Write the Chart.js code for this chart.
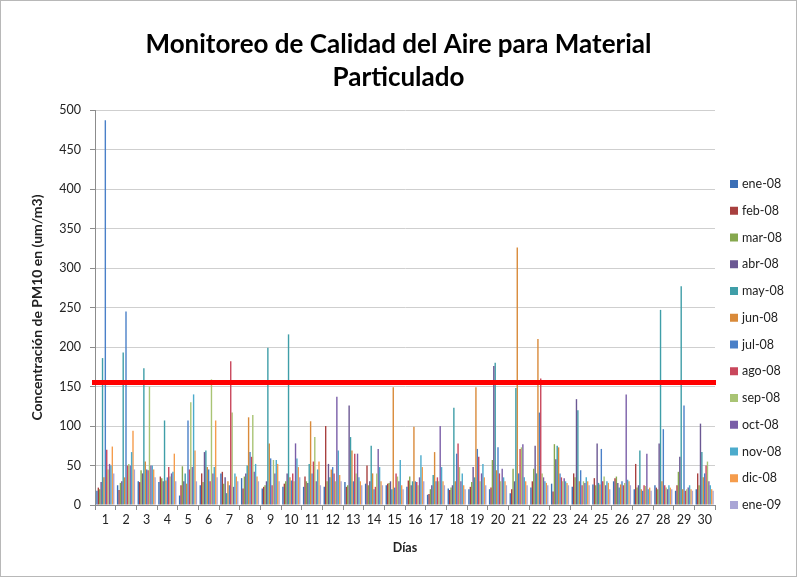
<!DOCTYPE html>
<html>
<head>
<meta charset="utf-8">
<script src="https://cdn.jsdelivr.net/npm/chart.js@4/dist/chart.umd.min.js"></script>
<style>
  body { margin: 0; background: #fff; }
  #wrap { width: 797px; height: 577px; box-sizing: border-box; border: 1px solid #b8b8b8; background: #fff; }
</style>
</head>
<body>
<div id="wrap"><canvas id="myChart" width="795" height="575"></canvas></div>
<script>
// Categories (days) and series labels
const dias = ['1', '2', '3', '4', '5', '6', '7', '8', '9', '10', '11', '12', '13', '14', '15',
  '16', '17', '18', '19', '20', '21', '22', '23', '24', '25', '26', '27', '28', '29', '30'];
const meses = ['ene-08', 'feb-08', 'mar-08', 'abr-08', 'may-08', 'jun-08', 'jul-08',
  'ago-08', 'sep-08', 'oct-08', 'nov-08', 'dic-08', 'ene-09'];

// PM10 values per month, day 1..30
const ene08 = [18, 25, 30, 29, 12, 25, 40, 34, 21, 23, 23, 23, 29, 27, 25, 23, 13, 21, 20, 20, 15, 22, 27, 23, 26, 30, 20, 25, 18, 20];
const feb08 = [22, 19, 29, 36, 25, 40, 42, 21, 23, 27, 36, 100, 23, 50, 27, 31, 14, 19, 23, 22, 20, 30, 17, 40, 34, 34, 52, 22, 25, 40];
const mar08 = [20, 28, 44, 34, 49, 29, 27, 36, 25, 30, 30, 30, 25, 25, 28, 36, 20, 22, 29, 57, 46, 46, 77, 35, 25, 36, 22, 20, 42, 25];
const abr08 = [29, 30, 40, 30, 30, 67, 35, 40, 30, 40, 28, 52, 126, 30, 30, 25, 25, 25, 48, 176, 30, 75, 58, 134, 78, 28, 25, 78, 61, 103];
const may08 = [186, 193, 173, 107, 40, 69, 15, 50, 199, 216, 52, 35, 86, 75, 20, 30, 38, 123, 35, 180, 148, 40, 75, 120, 28, 22, 69, 247, 277, 67];
const jun08 = [35, 35, 55, 31, 27, 48, 30, 111, 78, 35, 106, 45, 69, 40, 149, 99, 67, 30, 149, 44, 326, 210, 73, 30, 26, 26, 20, 30, 20, 35];
const jul08 = [487, 245, 45, 35, 107, 45, 25, 67, 59, 31, 40, 48, 30, 20, 22, 30, 30, 65, 71, 73, 40, 117, 40, 44, 71, 30, 18, 96, 126, 40];
const ago08 = [70, 50, 44, 48, 45, 30, 182, 61, 25, 40, 55, 40, 65, 23, 40, 29, 35, 78, 61, 40, 71, 160, 35, 25, 30, 25, 25, 25, 18, 50];
const sep08 = [45, 52, 150, 36, 130, 159, 117, 114, 57, 30, 86, 30, 40, 40, 36, 25, 30, 48, 30, 30, 73, 40, 30, 30, 36, 28, 24, 22, 20, 55];
const oct08 = [52, 50, 50, 40, 48, 40, 23, 42, 40, 78, 30, 137, 65, 71, 30, 35, 100, 30, 40, 46, 77, 35, 34, 28, 25, 140, 65, 20, 22, 30];
const nov08 = [50, 67, 50, 42, 140, 48, 40, 52, 57, 59, 45, 69, 35, 48, 57, 63, 48, 40, 52, 35, 35, 30, 30, 35, 30, 32, 20, 25, 25, 25];
const dic08 = [74, 94, 45, 65, 69, 107, 36, 36, 52, 48, 55, 38, 30, 30, 25, 48, 30, 25, 35, 30, 30, 28, 28, 30, 28, 30, 22, 22, 20, 20];
const ene09 = [40, 45, 35, 30, 30, 35, 30, 30, 30, 35, 25, 30, 25, 25, 20, 30, 25, 20, 25, 25, 25, 25, 25, 25, 20, 25, 18, 20, 18, 18];

// Limit line (PM10 standard)
const limite = 155;

// Y axis ticks
const yMin = 0;
const yMax = 500;
const yPaso = 50;

const series = [ene08, feb08, mar08, abr08, may08, jun08, jul08, ago08, sep08, oct08, nov08, dic08, ene09];
const colores = ['#3b6fb6', '#a8403f', '#86a84e', '#6b5893', '#3f9ea8', '#d98a3a', '#4a80c8',
  '#c9475c', '#a9c474', '#7a5ea8', '#4cabcc', '#f59c4c', '#aaa6d6'];

const fuente = 'Lato, "Open Sans", sans-serif';

// Red horizontal limit line, drawn on top of the bars
const lineaLimite = {
  id: 'lineaLimite',
  afterDatasetsDraw(chart) {
    const ctx = chart.ctx;
    const area = chart.chartArea;
    const y = chart.scales.y.getPixelForValue(limite);
    ctx.save();
    ctx.strokeStyle = '#ff0000';
    ctx.lineWidth = 5;
    ctx.beginPath();
    ctx.moveTo(area.left - 3, y);
    ctx.lineTo(area.right + 1, y);
    ctx.stroke();
    ctx.restore();
  }
};

// Legend drawn by hand so it sits like the Excel one
const leyenda = {
  id: 'leyenda',
  afterDraw(chart) {
    const ctx = chart.ctx;
    ctx.save();
    ctx.font = '12.5px ' + fuente;
    ctx.textBaseline = 'middle';
    chart.data.datasets.forEach(function(ds, i) {
      const y = 183 + i * 26.75;
      ctx.fillStyle = ds.backgroundColor;
      ctx.fillRect(729, y - 4, 8, 8);
      ctx.fillStyle = '#222';
      ctx.fillText(ds.label, 741, y);
    });
    ctx.restore();
  }
};

const datasets = series.map(function(valores, i) {
  return {
    label: meses[i],
    data: valores,
    backgroundColor: colores[i],
    borderWidth: 0,
    categoryPercentage: 0.88,
    barPercentage: 1.0
  };
});

const ctx = document.getElementById('myChart').getContext('2d');

var myChart = new Chart(ctx, {
  type: 'bar',
  data: {
    labels: dias,
    datasets: datasets
  },
  options: {
    responsive: false,
    animation: false,
    layout: {
      padding: { left: 0, right: 0, top: 0, bottom: 5 }
    },
    plugins: {
      legend: { display: false },
      tooltip: { enabled: false },
      title: {
        display: true,
        text: ['Monitoreo de Calidad del Aire para Material', 'Particulado'],
        color: '#000',
        font: { family: fuente, size: 26, weight: 'bold', lineHeight: 1.27 },
        padding: { top: 27, bottom: 16 }
      }
    },
    scales: {
      x: {
        afterFit: function(scale) { scale.height = 66; },
        grid: {
          display: true,
          drawOnChartArea: false,
          drawTicks: true,
          tickLength: 5,
          color: '#8c8c8c'
        },
        border: { color: '#8c8c8c' },
        ticks: {
          color: '#222',
          font: { family: fuente, size: 12.5 },
          padding: 2,
          maxRotation: 0,
          autoSkip: false
        },
        title: {
          display: true,
          text: 'Días',
          color: '#222',
          font: { family: fuente, size: 12.5, weight: 'bold' },
          padding: { top: 0, bottom: 16 }
        }
      },
      y: {
        min: yMin,
        max: yMax,
        afterFit: function(scale) { scale.width = 94; },
        grid: {
          color: '#cfcfcf',
          tickLength: 5,
          tickColor: '#8c8c8c'
        },
        border: { color: '#8c8c8c' },
        ticks: {
          stepSize: yPaso,
          color: '#222',
          font: { family: fuente, size: 12.5 },
          padding: 9
        },
        title: {
          display: true,
          text: 'Concentración de PM10 en (um/m3)',
          color: '#222',
          font: { family: fuente, size: 14, weight: 'bold' },
          padding: { top: 28, bottom: 0 }
        }
      },
      // empty axis on the right that reserves room for the legend
      espacio: {
        type: 'linear',
        position: 'right',
        display: true,
        afterFit: function(scale) { scale.width = 81; },
        grid: { display: false },
        border: { display: false },
        ticks: { display: false }
      }
    }
  },
  plugins: [lineaLimite, leyenda]
});
</script>
</body>
</html>
